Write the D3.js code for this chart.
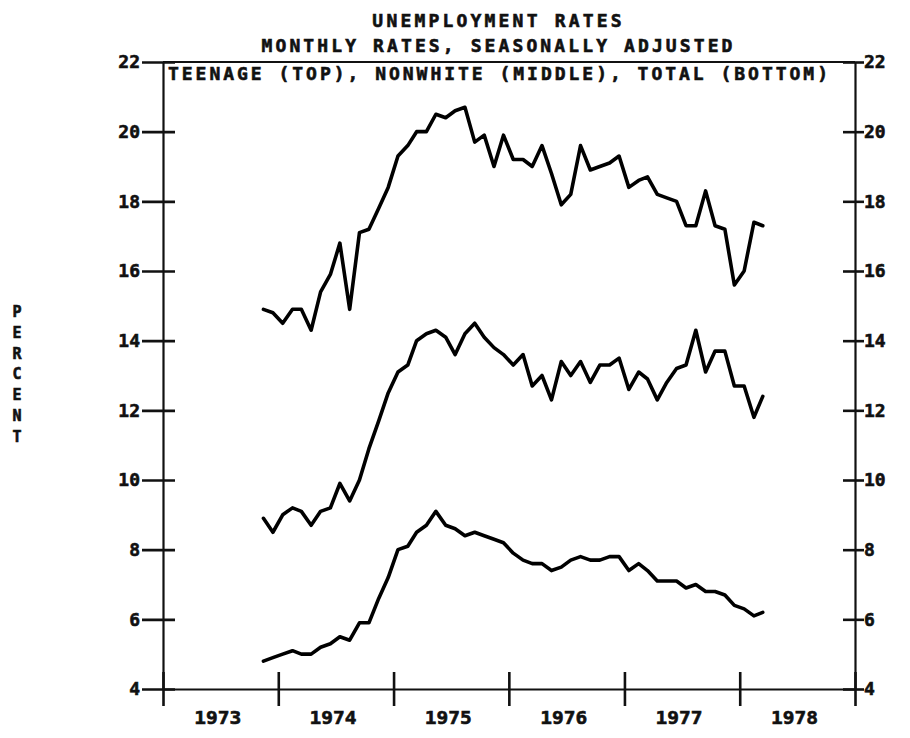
<!DOCTYPE html>
<html>
<head>
<meta charset="utf-8">
<script src="https://cdn.jsdelivr.net/npm/d3@7"></script>
<style>
  body { margin: 0; background: #fff; }
  svg { display: block; }
  text { font-family: "DejaVu Sans Mono", monospace; font-weight: bold; fill: #111; stroke: #111; stroke-width: 0.6px; }
</style>
</head>
<body>
<div id="chart"></div>
<script>
// monthly, seasonally adjusted, Nov 1973 .. Mar 1978
const firstMonth = new Date(1973, 10, 1)
const lastMonth = new Date(1978, 2, 1)

const teenage = [
  14.9, 14.8, 14.5, 14.9, 14.9, 14.3, 15.4, 15.9, 16.8, 14.9, 17.1, 17.2,
  17.8, 18.4, 19.3, 19.6, 20.0, 20.0, 20.5, 20.4, 20.6, 20.7, 19.7, 19.9,
  19.0, 19.9, 19.2, 19.2, 19.0, 19.6, 18.8, 17.9, 18.2, 19.6, 18.9, 19.0,
  19.1, 19.3, 18.4, 18.6, 18.7, 18.2, 18.1, 18.0, 17.3, 17.3, 18.3, 17.3,
  17.2, 15.6, 16.0, 17.4, 17.3
]
const nonwhite = [
  8.9, 8.5, 9.0, 9.2, 9.1, 8.7, 9.1, 9.2, 9.9, 9.4, 10.0, 10.9,
  11.7, 12.5, 13.1, 13.3, 14.0, 14.2, 14.3, 14.1, 13.6, 14.2, 14.5, 14.1,
  13.8, 13.6, 13.3, 13.6, 12.7, 13.0, 12.3, 13.4, 13.0, 13.4, 12.8, 13.3,
  13.3, 13.5, 12.6, 13.1, 12.9, 12.3, 12.8, 13.2, 13.3, 14.3, 13.1, 13.7,
  13.7, 12.7, 12.7, 11.8, 12.4
]
const total = [
  4.8, 4.9, 5.0, 5.1, 5.0, 5.0, 5.2, 5.3, 5.5, 5.4, 5.9, 5.9,
  6.6, 7.2, 8.0, 8.1, 8.5, 8.7, 9.1, 8.7, 8.6, 8.4, 8.5, 8.4,
  8.3, 8.2, 7.9, 7.7, 7.6, 7.6, 7.4, 7.5, 7.7, 7.8, 7.7, 7.7,
  7.8, 7.8, 7.4, 7.6, 7.4, 7.1, 7.1, 7.1, 6.9, 7.0, 6.8, 6.8,
  6.7, 6.4, 6.3, 6.1, 6.2
]

const yTicks = [4, 6, 8, 10, 12, 14, 16, 18, 20, 22]
const years = [1973, 1974, 1975, 1976, 1977, 1978]

const titleLines = ['UNEMPLOYMENT RATES', 'MONTHLY RATES, SEASONALLY ADJUSTED']
const seriesNote = 'TEENAGE (TOP), NONWHITE (MIDDLE), TOTAL (BOTTOM)'
const yTitle = 'PERCENT'

const width = 910
const height = 738
const margin = { top: 62, right: 55, bottom: 49, left: 163 }

// plotted at mid-month
const months = d3.timeMonth.range(firstMonth, d3.timeMonth.offset(lastMonth, 1))
  .map(d => new Date(d.getFullYear(), d.getMonth(), 15))

const x = d3.scaleTime()
  .domain([new Date(1973, 0, 1), new Date(1979, 0, 1)])
  .range([margin.left, width - margin.right])

const y = d3.scaleLinear()
  .domain([4, 22])
  .range([height - margin.bottom, margin.top])

const svg = d3.select('#chart').append('svg')
  .attr('width', width)
  .attr('height', height)

// frame top
svg.append('line')
  .attr('x1', x.range()[0]).attr('x2', x.range()[1])
  .attr('y1', y(22)).attr('y2', y(22))
  .attr('stroke', '#111').attr('stroke-width', 2.2)

const styleAxis = g => {
  g.select('.domain').attr('stroke', '#111').attr('stroke-width', 2.2)
  g.selectAll('.tick line').attr('stroke', '#111').attr('stroke-width', 2.6)
  g.selectAll('.tick text').style('font-size', '18px')
}

svg.append('g')
  .attr('transform', `translate(${x.range()[0]},0)`)
  .call(d3.axisLeft(y).tickValues(yTicks).tickSizeOuter(0).tickPadding(17))
  .call(styleAxis)
  .call(g => g.selectAll('.tick line').attr('x1', -21).attr('x2', 12))

svg.append('g')
  .attr('transform', `translate(${x.range()[1]},0)`)
  .call(d3.axisRight(y).tickValues(yTicks).tickSizeOuter(0).tickPadding(3))
  .call(styleAxis)
  .call(g => g.selectAll('.tick line').attr('x1', -12).attr('x2', 9))

// year boundaries
svg.append('g')
  .attr('transform', `translate(0,${y(4)})`)
  .call(d3.axisBottom(x)
    .tickValues(d3.range(1973, 1980).map(yr => new Date(yr, 0, 1)))
    .tickFormat('')
    .tickSizeOuter(0))
  .call(styleAxis)
  .call(g => g.selectAll('.tick line').attr('y1', -17).attr('y2', 17))

// year labels between boundaries
svg.append('g')
  .attr('transform', `translate(-3,${y(4)})`)
  .call(d3.axisBottom(x)
    .tickValues(years.map(yr => new Date(yr, 6, 1)))
    .tickFormat(d3.timeFormat('%Y'))
    .tickSize(0)
    .tickPadding(22))
  .call(g => g.select('.domain').remove())
  .call(g => g.selectAll('.tick text').style('font-size', '18px')
    .attr('textLength', 47).attr('lengthAdjust', 'spacingAndGlyphs'))

const line = d3.line()
  .x((d, i) => x(months[i]))
  .y(d => y(d))

svg.selectAll('path.series')
  .data([teenage, nonwhite, total])
  .join('path')
    .attr('class', 'series')
    .attr('d', line)
    .attr('fill', 'none')
    .attr('stroke', '#000')
    .attr('stroke-width', 3.6)
    .attr('stroke-linejoin', 'round')
    .attr('stroke-linecap', 'round')

// titles
const titleG = svg.append('g')
titleG.selectAll('text')
  .data(titleLines)
  .join('text')
    .attr('x', 497)
    .attr('y', (d, i) => 27 + i * 25)
    .attr('text-anchor', 'middle')
    .attr('textLength', d => d.length * 13.85)
    .attr('lengthAdjust', 'spacing')
    .style('font-size', '18px')
    .text(d => d)

svg.append('text')
  .attr('x', 168)
  .attr('y', 80)
  .attr('textLength', 660)
  .attr('lengthAdjust', 'spacing')
  .style('font-size', '18px')
  .text(seriesNote)

svg.append('g')
  .selectAll('text')
  .data(yTitle.split(''))
  .join('text')
    .attr('x', 17)
    .attr('y', (d, i) => 317 + i * 20.8)
    .attr('text-anchor', 'middle')
    .style('font-size', '15px')
    .text(d => d)
</script>
</body>
</html>
